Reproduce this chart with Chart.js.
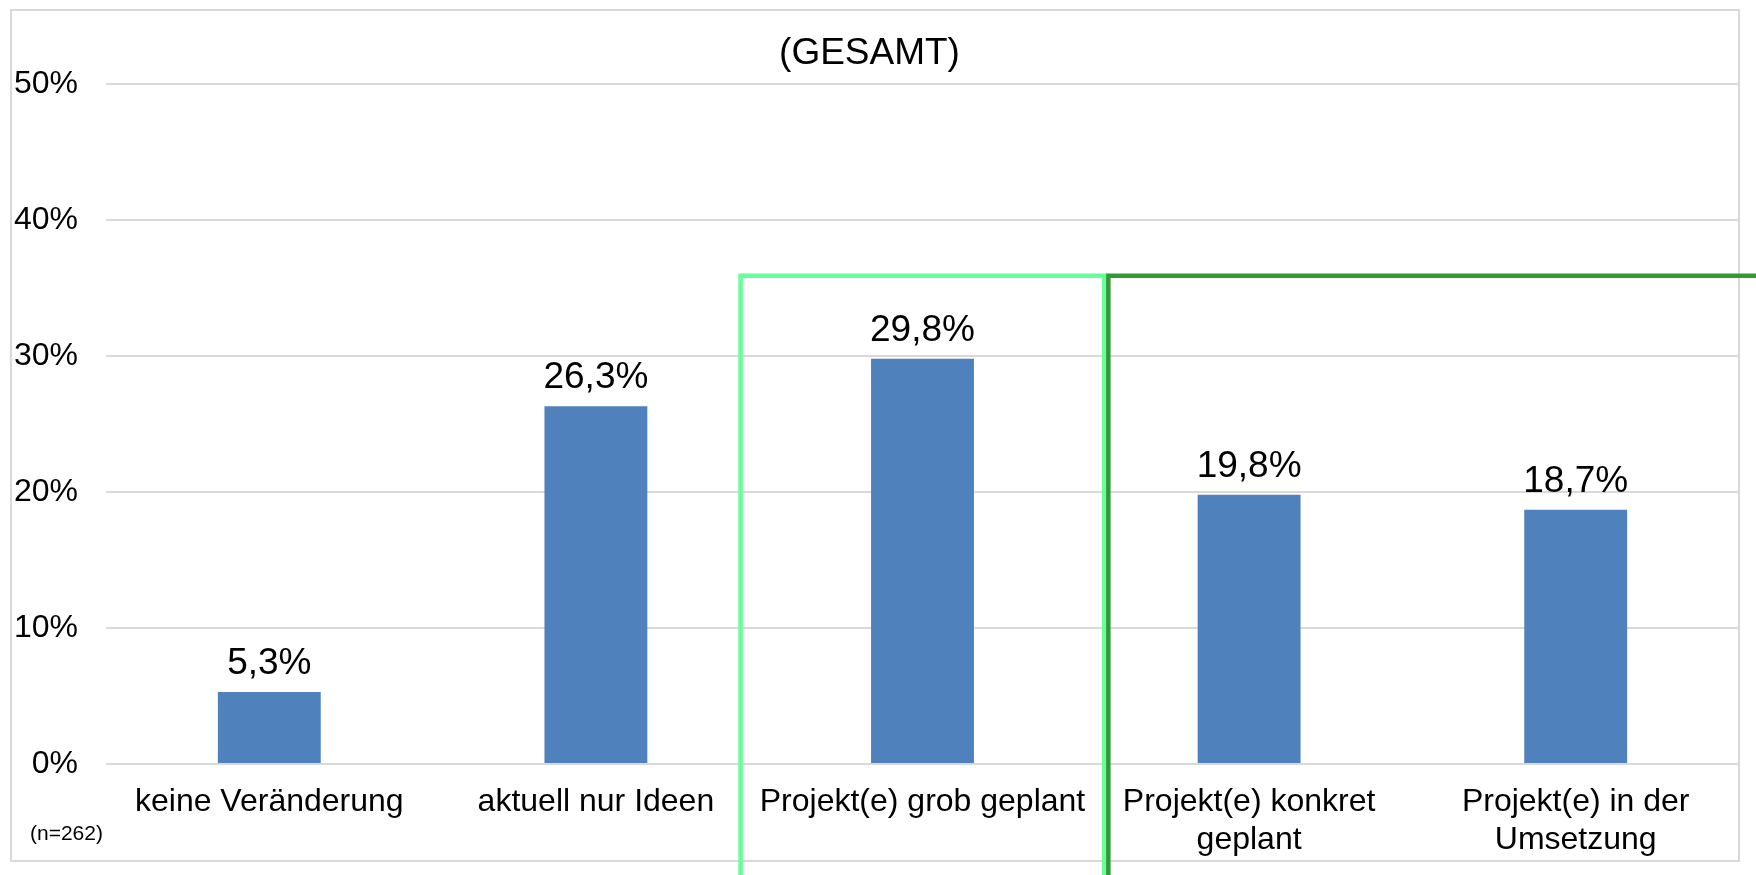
<!DOCTYPE html>
<html>
<head>
<meta charset="utf-8">
<script src="https://cdn.jsdelivr.net/npm/chart.js@4"></script>
<style>
    body { margin: 0; background: #ffffff; }
    #wrap { position: relative; width: 1756px; height: 875px; }
</style>
</head>
<body>
<div id="wrap">
    <canvas id="statusChart" width="1756" height="875"></canvas>
</div>
<script>
//Data
const categories = [
    "keine Veränderung",
    "aktuell nur Ideen",
    "Projekt(e) grob geplant",
    ["Projekt(e) konkret", "geplant"],
    ["Projekt(e) in der", "Umsetzung"]
];
const shareValues = [5.3, 26.3, 29.8, 19.8, 18.7];
const yTicks = [0, 10, 20, 30, 40, 50];
const chartTitle = "(GESAMT)";
const sampleNote = "(n=262)";

//Highlight boxes, given in category units (x) and percent (top)
const boxFrom = [1.443, 2.569];
const boxTo = [2.556, null]; //null = runs off the right edge
const boxTop = [35.9, 35.9];
const boxColors = ["#66ff99", "#339933"];

const baseFont = "'Liberation Sans', Arial, sans-serif";
const narrowFont = "'Liberation Sans Narrow', 'Liberation Sans', Arial, sans-serif";

//Grey frame around the whole chart plus the n= note
const framePlugin = {
    id: 'frame',
    beforeDraw(chart) {
        const ctx = chart.ctx;
        ctx.save();
        ctx.strokeStyle = '#d9d9d9';
        ctx.lineWidth = 2;
        ctx.strokeRect(11, 10, chart.chartArea.right - 11, 851);
        ctx.restore();
    },
    afterDraw(chart) {
        const ctx = chart.ctx;
        ctx.save();
        ctx.fillStyle = '#000000';
        ctx.font = "21px " + baseFont;
        ctx.textAlign = 'left';
        ctx.textBaseline = 'alphabetic';
        ctx.fillText(sampleNote, 30, 840);
        ctx.restore();
    }
};

//Value labels above each bar (German decimal comma)
const valueLabelPlugin = {
    id: 'valueLabels',
    afterDatasetsDraw(chart) {
        const ctx = chart.ctx;
        const meta = chart.getDatasetMeta(0);
        ctx.save();
        ctx.fillStyle = '#000000';
        ctx.font = "37px " + baseFont;
        ctx.textAlign = 'center';
        ctx.textBaseline = 'alphabetic';
        for (let i = 0; i < meta.data.length; i++) {
            const bar = meta.data[i];
            const text = shareValues[i].toFixed(1).replace('.', ',') + '%';
            ctx.fillText(text, bar.x, bar.y - 18);
        }
        ctx.restore();
    }
};

//Green highlight boxes, open at the bottom
const highlightPlugin = {
    id: 'highlights',
    afterDraw(chart) {
        const ctx = chart.ctx;
        const xScale = chart.scales.x;
        const yScale = chart.scales.y;
        ctx.save();
        ctx.lineWidth = 4.5;
        for (let i = 0; i < boxFrom.length; i++) {
            const left = xScale.getPixelForValue(boxFrom[i]);
            const right = boxTo[i] === null ? chart.width + 5 : xScale.getPixelForValue(boxTo[i]);
            const top = yScale.getPixelForValue(boxTop[i]);
            ctx.strokeStyle = boxColors[i];
            ctx.beginPath();
            ctx.moveTo(left, chart.height + 5);
            ctx.lineTo(left, top);
            ctx.lineTo(right, top);
            if (boxTo[i] !== null) {
                ctx.lineTo(right, chart.height + 5);
            }
            ctx.stroke();
        }
        ctx.restore();
    }
};

const chartData = {
    labels: categories,
    datasets: [{
        data: shareValues,
        backgroundColor: "#4f81bd",
        borderWidth: 0,
        barPercentage: 0.315,
        categoryPercentage: 1
    }]
};

const chartOptions = {
    responsive: false,
    animation: false,
    layout: {
        padding: { left: 0, right: 17, top: 0, bottom: 0 }
    },
    plugins: {
        legend: { display: false },
        tooltip: { enabled: false },
        title: {
            display: true,
            text: chartTitle,
            color: '#000000',
            font: { family: baseFont, size: 37, weight: 'normal', lineHeight: 1.2 },
            padding: { top: 32, bottom: 7.6 }
        }
    },
    scales: {
        x: {
            grid: { display: false, drawTicks: false },
            border: { display: false },
            ticks: {
                color: '#000000',
                autoSkip: false,
                maxRotation: 0,
                padding: 20,
                font: (c) => ({
                    family: c.index >= 3 ? narrowFont : baseFont,
                    size: 32,
                    lineHeight: 1.16
                })
            },
            afterFit(scale) {
                scale.height = 111;
            }
        },
        y: {
            min: yTicks[0],
            max: yTicks[yTicks.length - 1],
            grid: { color: '#d9d9d9', lineWidth: 2, drawTicks: false },
            border: { display: false },
            afterBuildTicks(scale) {
                scale.ticks = yTicks.map(v => ({ value: v }));
            },
            ticks: {
                color: '#000000',
                padding: 28,
                font: { family: baseFont, size: 32 },
                callback: (v) => v + '%'
            },
            afterFit(scale) {
                scale.width = 106;
            }
        }
    }
};

const ctx = document.getElementById('statusChart').getContext('2d');
const statusChart = new Chart(ctx, {
    type: 'bar',
    data: chartData,
    options: chartOptions,
    plugins: [framePlugin, valueLabelPlugin, highlightPlugin]
});
</script>
</body>
</html>
